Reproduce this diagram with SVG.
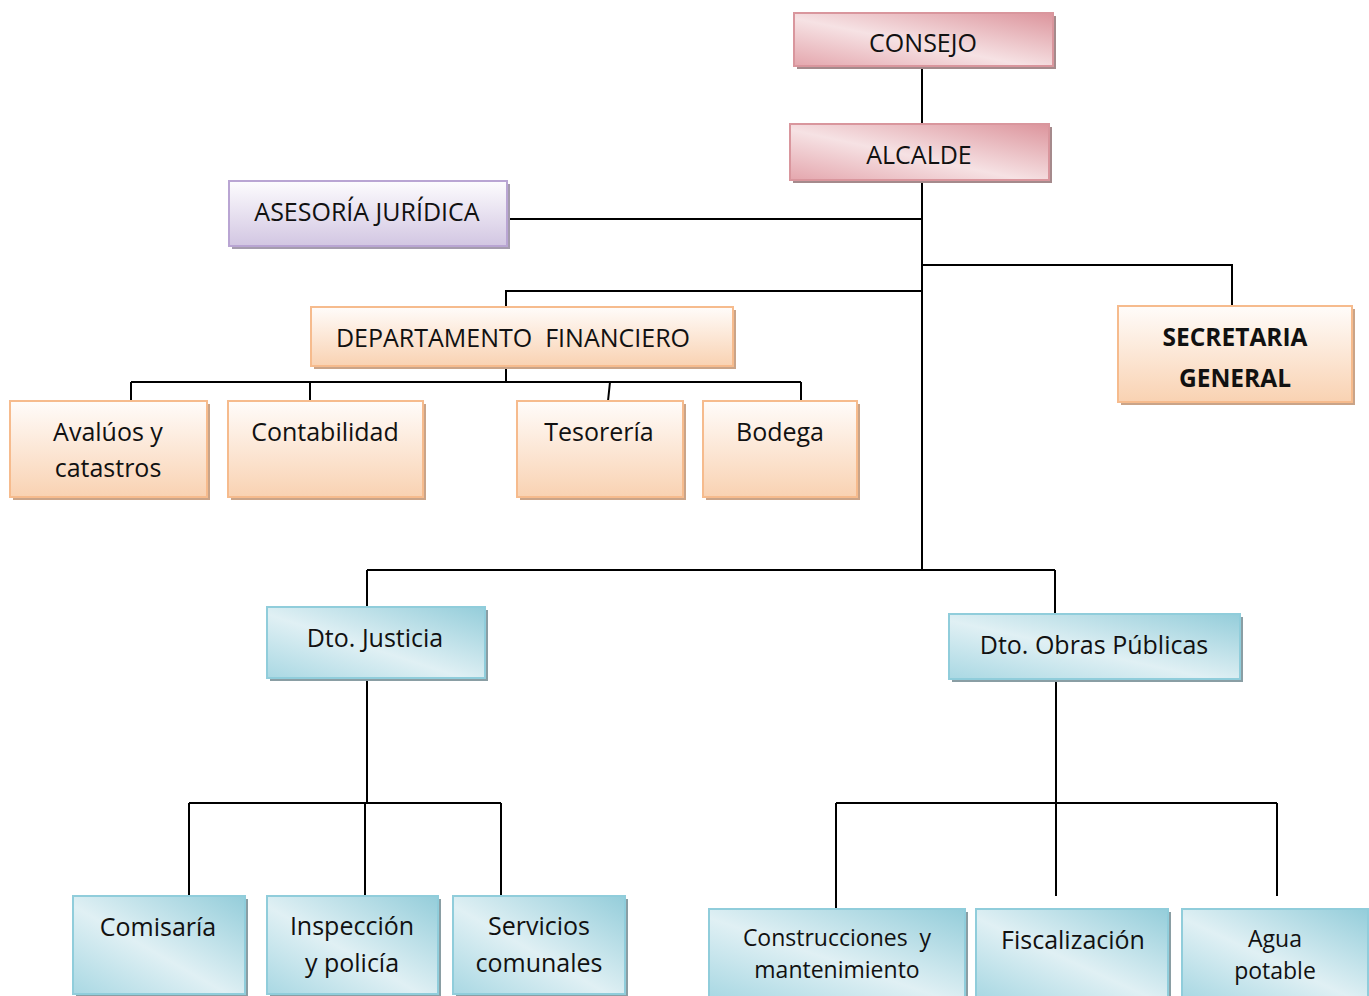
<svg xmlns="http://www.w3.org/2000/svg" width="1369" height="996" viewBox="0 0 1369 996">
  <defs>
    <linearGradient id="gPink" x1="0" y1="1" x2="1" y2="0">
      <stop offset="0" stop-color="#e4a6ad"/>
      <stop offset="0.45" stop-color="#f6e2e4"/>
      <stop offset="1" stop-color="#dc949c"/>
    </linearGradient>
    <linearGradient id="gPurple" x1="0" y1="0" x2="0" y2="1">
      <stop offset="0" stop-color="#fdfcfe"/>
      <stop offset="1" stop-color="#d2c6e2"/>
    </linearGradient>
    <linearGradient id="gOrange" x1="0" y1="0" x2="0" y2="1">
      <stop offset="0" stop-color="#fffcfa"/>
      <stop offset="1" stop-color="#f9d2b2"/>
    </linearGradient>
    <linearGradient id="gBlue" x1="0" y1="1" x2="1" y2="0">
      <stop offset="0" stop-color="#a9d8e3"/>
      <stop offset="0.45" stop-color="#e0f0f4"/>
      <stop offset="1" stop-color="#94cdda"/>
    </linearGradient>
  </defs>
  <style>
    text { font-family: "Open Sans", "Liberation Sans", sans-serif; font-size: 25px; fill: #111; text-anchor: middle; }
    .b { font-weight: bold; font-size: 24.5px; }
    .sm { font-size: 23px; }
    .shPink { fill: #a58a8c; }
    .shPurple { fill: #a59cae; }
    .shOrange { fill: #caa488; }
    .shBlue { fill: #8a9ea4; }
    .pink { fill: url(#gPink); stroke: #d9969d; stroke-width: 2; }
    .purple { fill: url(#gPurple); stroke: #b9a5d3; stroke-width: 2; }
    .orange { fill: url(#gOrange); stroke: #f6bb8d; stroke-width: 2; }
    .blue { fill: url(#gBlue); stroke: #90cddb; stroke-width: 2; }
    #connectors path { fill: none; stroke: #000; stroke-width: 2; }
  </style>

  <g id="connectors">
    <path d="M922 66V124"/>
    <path d="M922 180V570"/>
    <path d="M507 219H922"/>
    <path d="M922 265H1232V306"/>
    <path d="M922 291H506V307"/>
    <path d="M506 366V382"/>
    <path d="M131 382H801"/>
    <path d="M131 382V401M310 382V401M610 382L608 401M801 382V401"/>
    <path d="M367 570H1055"/>
    <path d="M367 570V607M1055 570V614"/>
    <path d="M367 678V803"/>
    <path d="M189 803H501"/>
    <path d="M189 803V896M365 803V896M501 803V896"/>
    <path d="M1056 679V896"/>
    <path d="M836 803H1277"/>
    <path d="M836 803V909M1277 803V896"/>
  </g>

  <g id="consejo">
    <rect class="shPink" x="797" y="16" width="259" height="53"/>
    <rect class="pink" x="794" y="13" width="259" height="53"/>
    <text x="923" y="52">CONSEJO</text>
  </g>
  <g id="alcalde">
    <rect class="shPink" x="793" y="127" width="259" height="56"/>
    <rect class="pink" x="790" y="124" width="259" height="56"/>
    <text x="919" y="164">ALCALDE</text>
  </g>
  <g id="asesoria">
    <rect class="shPurple" x="232" y="184" width="278" height="65"/>
    <rect class="purple" x="229" y="181" width="278" height="65"/>
    <text x="367" y="221">ASESORÍA JURÍDICA</text>
  </g>
  <g id="dpto-financiero">
    <rect class="shOrange" x="314" y="310" width="422" height="59"/>
    <rect class="orange" x="311" y="307" width="422" height="59"/>
    <text x="513" y="347" xml:space="preserve">DEPARTAMENTO  FINANCIERO</text>
  </g>
  <g id="secretaria">
    <rect class="shOrange" x="1121" y="309" width="234" height="96"/>
    <rect class="orange" x="1118" y="306" width="234" height="96"/>
    <text class="b" x="1235" y="346">SECRETARIA</text>
    <text class="b" x="1235" y="387">GENERAL</text>
  </g>
  <g id="avaluos">
    <rect class="shOrange" x="13" y="404" width="197" height="96"/>
    <rect class="orange" x="10" y="401" width="197" height="96"/>
    <text x="108" y="441">Avalúos y</text>
    <text x="108" y="477">catastros</text>
  </g>
  <g id="contabilidad">
    <rect class="shOrange" x="231" y="404" width="195" height="96"/>
    <rect class="orange" x="228" y="401" width="195" height="96"/>
    <text x="325" y="441">Contabilidad</text>
  </g>
  <g id="tesoreria">
    <rect class="shOrange" x="520" y="404" width="166" height="96"/>
    <rect class="orange" x="517" y="401" width="166" height="96"/>
    <text x="599" y="441">Tesorería</text>
  </g>
  <g id="bodega">
    <rect class="shOrange" x="706" y="404" width="154" height="96"/>
    <rect class="orange" x="703" y="401" width="154" height="96"/>
    <text x="780" y="441">Bodega</text>
  </g>
  <g id="dto-justicia">
    <rect class="shBlue" x="270" y="610" width="218" height="71"/>
    <rect class="blue" x="267" y="607" width="218" height="71"/>
    <text x="375" y="647">Dto. Justicia</text>
  </g>
  <g id="dto-obras">
    <rect class="shBlue" x="952" y="617" width="291" height="65"/>
    <rect class="blue" x="949" y="614" width="291" height="65"/>
    <text x="1094" y="654">Dto. Obras Públicas</text>
  </g>
  <g id="comisaria">
    <rect class="shBlue" x="76" y="899" width="172" height="98"/>
    <rect class="blue" x="73" y="896" width="172" height="98"/>
    <text x="158" y="936">Comisaría</text>
  </g>
  <g id="inspeccion">
    <rect class="shBlue" x="270" y="899" width="171" height="98"/>
    <rect class="blue" x="267" y="896" width="171" height="98"/>
    <text x="352" y="935">Inspección</text>
    <text x="352" y="972">y policía</text>
  </g>
  <g id="servicios">
    <rect class="shBlue" x="456" y="899" width="172" height="98"/>
    <rect class="blue" x="453" y="896" width="172" height="98"/>
    <text x="539" y="935">Servicios</text>
    <text x="539" y="972">comunales</text>
  </g>
  <g id="construcciones">
    <rect class="shBlue" x="712" y="912" width="256" height="88"/>
    <rect class="blue" x="709" y="909" width="256" height="88"/>
    <text class="sm" x="837" y="946" xml:space="preserve">Construcciones  y</text>
    <text class="sm" x="837" y="978">mantenimiento</text>
  </g>
  <g id="fiscalizacion">
    <rect class="shBlue" x="979" y="912" width="192" height="88"/>
    <rect class="blue" x="976" y="909" width="192" height="88"/>
    <text x="1073" y="949">Fiscalización</text>
  </g>
  <g id="agua">
    <rect class="shBlue" x="1185" y="912" width="186" height="88"/>
    <rect class="blue" x="1182" y="909" width="186" height="88"/>
    <text class="sm" x="1275" y="947">Agua</text>
    <text class="sm" x="1275" y="979">potable</text>
  </g>
</svg>
